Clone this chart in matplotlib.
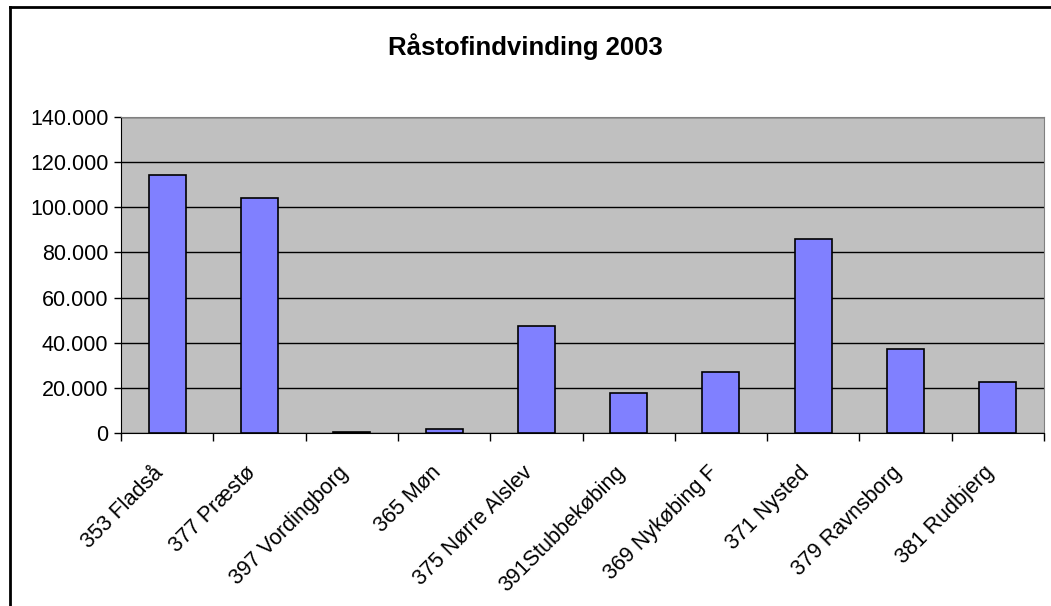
import numpy as np
import matplotlib.pyplot as plt
from matplotlib.lines import Line2D
from matplotlib.ticker import FuncFormatter
from matplotlib.transforms import ScaledTranslation

plt.rcParams['font.family'] = ['Liberation Sans', 'DejaVu Sans']

kommuner = ["353 Fladså", "377 Præstø", "397 Vordingborg", "365 Møn",
            "375 Nørre Alslev", "391Stubbekøbing", "369 Nykøbing F",
            "371 Nysted", "379 Ravnsborg", "381 Rudbjerg"]
maengde = [114200, 104200, 400, 1900, 47450, 17700, 27100, 85900, 37300, 22800]
y_ticks = [0, 20000, 40000, 60000, 80000, 100000, 120000, 140000]

fig = plt.figure(figsize=(10.51, 6.06), dpi=100)
ax = fig.add_axes([121/1051, 1-433/606, (1044-121)/1051, (433-117)/606])
ax.set_facecolor('#C0C0C0')

x = np.arange(len(kommuner))
ax.bar(x, maengde, width=0.4, color='#8080FF', edgecolor='black', linewidth=1.2, zorder=3)

ax.set_xlim(-0.5, len(kommuner) - 0.5)
ax.set_ylim(0, 140000)
ax.set_yticks(y_ticks)
ax.yaxis.set_major_formatter(FuncFormatter(lambda v, p: f"{int(v):,}".replace(",", ".")))
ax.grid(axis='y', color='black', linewidth=1, zorder=1)
ax.tick_params(axis='y', length=5, width=1, labelsize=15.5, pad=4)

ax.set_xticks(x)
ax.set_xticklabels(kommuner, rotation=45, ha='right', va='top',
                   rotation_mode='anchor', fontsize=15.5)
ax.tick_params(axis='x', which='major', length=0, pad=21)
shift = ScaledTranslation(-14/100, 0, fig.dpi_scale_trans)
for lbl in ax.get_xticklabels():
    lbl.set_transform(lbl.get_transform() + shift)
ax.set_xticks(np.arange(-0.5, len(kommuner), 1), minor=True)
ax.tick_params(axis='x', which='minor', length=6, width=1)

for side in ['top', 'right']:
    ax.spines[side].set_color('#808080')
for side in ['left', 'bottom']:
    ax.spines[side].set_color('black')

fig.text(0.5, 1-47/606, "Råstofindvinding 2003", ha='center', va='center',
         fontsize=18.5, fontweight='bold')

# chart area frame (only left and top edges visible)
fig.add_artist(Line2D([10/1051, 10/1051], [0, 1-7/606], transform=fig.transFigure,
                      color='black', linewidth=2))
fig.add_artist(Line2D([10/1051, 1], [1-7/606, 1-7/606], transform=fig.transFigure,
                      color='black', linewidth=2))

fig.savefig("out.png", dpi=100)
